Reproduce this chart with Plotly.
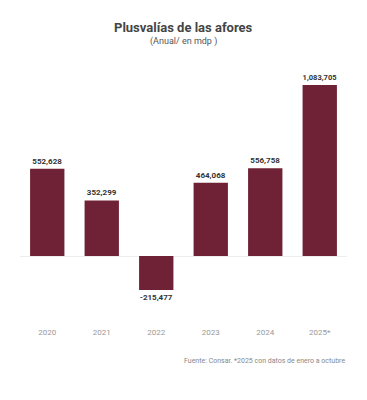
import plotly.graph_objects as go

years = ["2020", "2021", "2022", "2023", "2024", "2025*"]
values = [552628, 352299, -215477, 464068, 556758, 1083705]
labels = ["552,628", "352,299", "-215,477", "464,068", "556,758", "1,083,705"]

title = "Plusvalías de las afores"
subtitle = "(Anual/ en mdp )"
source = "Fuente: Consar. *2025 con datos de enero a octubre"

fig = go.Figure(go.Bar(
    x=years, y=values, text=labels, textposition="outside",
    textfont=dict(family="Roboto", size=8, color="#333333", weight="bold"),
    marker=dict(color="#6f2236", line=dict(width=0)),
    cliponaxis=False, hoverinfo="skip",
))

# page has an 8px body margin; figure sized to fit the window
fig.update_layout(
    width=359, height=392,
    margin=dict(l=12, r=20, t=62, b=80),
    paper_bgcolor="white", plot_bgcolor="white",
    bargap=0.37,
    showlegend=False,
    font=dict(family="Roboto", color="#444444"),
    xaxis=dict(showgrid=False, showline=False, ticks="", tickfont=dict(size=8, color="#999999"),
               ticklabelstandoff=6),
    yaxis=dict(range=[-405600, 1178700], showgrid=False, showticklabels=False,
               zeroline=True, zerolinecolor="#eeeeee", zerolinewidth=1),
    annotations=[
        dict(text=title, x=0.5, y=27, xref="paper", yref="paper", showarrow=False,
             font=dict(size=13, color="#444444", weight="bold")),
        dict(text=subtitle, x=0.5, y=42, xref="paper", yref="paper", showarrow=False,
             font=dict(size=9, color="#555555")),
        dict(text=source, x=1, y=361, xref="paper", yref="paper", showarrow=False,
             xanchor="right", font=dict(size=7, color="#888888")),
    ],
)

# convert screen pixel y positions to paper coords
plot_top, plot_h = 70, 250
for a in fig.layout.annotations:
    a.y = (plot_top + plot_h - a.y) / plot_h
    a.yanchor = "middle"

fig.write_html("out.html")
